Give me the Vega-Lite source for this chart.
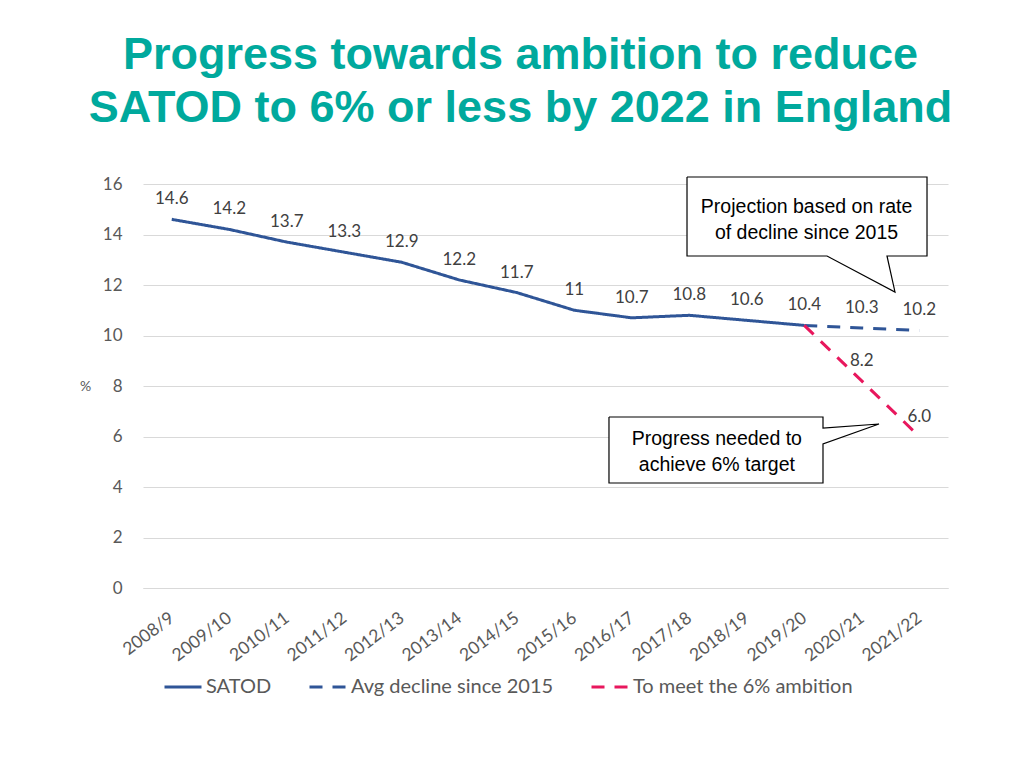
{
  "$schema": "https://vega.github.io/schema/vega-lite/v6.json",
  "width": 805,
  "height": 404,
  "autosize": {"type": "none"},
  "padding": {"left": 143, "top": 184, "right": 76, "bottom": 180},
  "background": "white",
  "title": {
    "text": ["Progress towards ambition to reduce", "SATOD to 6% or less by 2022 in England"],
    "font": "Liberation Sans",
    "fontSize": 45,
    "fontWeight": "bold",
    "color": "#00A99D",
    "anchor": "middle",
    "frame": "group",
    "dx": -25,
    "offset": 44,
    "lineHeight": 53
  },
  "config": {"view": {"stroke": null}, "font": "Lato"},
  "datasets": {
    "series": [
      {"series": "SATOD", "period": "2008/9", "value": 14.6, "label": "14.6"},
      {"series": "SATOD", "period": "2009/10", "value": 14.2, "label": "14.2"},
      {"series": "SATOD", "period": "2010/11", "value": 13.7, "label": "13.7"},
      {"series": "SATOD", "period": "2011/12", "value": 13.3, "label": "13.3"},
      {"series": "SATOD", "period": "2012/13", "value": 12.9, "label": "12.9"},
      {"series": "SATOD", "period": "2013/14", "value": 12.2, "label": "12.2"},
      {"series": "SATOD", "period": "2014/15", "value": 11.7, "label": "11.7"},
      {"series": "SATOD", "period": "2015/16", "value": 11.0, "label": "11"},
      {"series": "SATOD", "period": "2016/17", "value": 10.7, "label": "10.7"},
      {"series": "SATOD", "period": "2017/18", "value": 10.8, "label": "10.8"},
      {"series": "SATOD", "period": "2018/19", "value": 10.6, "label": "10.6"},
      {"series": "SATOD", "period": "2019/20", "value": 10.4, "label": "10.4"},
      {"series": "Avg decline since 2015", "period": "2019/20", "value": 10.4, "label": null},
      {"series": "Avg decline since 2015", "period": "2020/21", "value": 10.3, "label": "10.3"},
      {"series": "Avg decline since 2015", "period": "2021/22", "value": 10.2, "label": "10.2"},
      {"series": "To meet the 6% ambition", "period": "2019/20", "value": 10.4, "label": null},
      {"series": "To meet the 6% ambition", "period": "2020/21", "value": 8.2, "label": "8.2"},
      {"series": "To meet the 6% ambition", "period": "2021/22", "value": 6.0, "label": "6.0"}
    ],
    "callouts": [
      {"id": "a", "i": 1, "u": 9.461, "v": 16.277},
      {"id": "a", "i": 2, "u": 13.635, "v": 16.277},
      {"id": "a", "i": 3, "u": 13.635, "v": 13.149},
      {"id": "a", "i": 4, "u": 12.939, "v": 13.149},
      {"id": "a", "i": 5, "u": 13.078, "v": 11.723},
      {"id": "a", "i": 6, "u": 11.896, "v": 13.149},
      {"id": "a", "i": 7, "u": 9.461, "v": 13.149},
      {"id": "a", "i": 8, "u": 9.461, "v": 16.277},
      {"id": "b", "i": 1, "u": 8.104, "v": 6.772},
      {"id": "b", "i": 2, "u": 11.826, "v": 6.772},
      {"id": "b", "i": 3, "u": 11.826, "v": 6.337},
      {"id": "b", "i": 4, "u": 12.8, "v": 6.495},
      {"id": "b", "i": 5, "u": 11.826, "v": 5.703},
      {"id": "b", "i": 6, "u": 11.826, "v": 4.158},
      {"id": "b", "i": 7, "u": 8.104, "v": 4.158},
      {"id": "b", "i": 8, "u": 8.104, "v": 6.772}
    ],
    "callout_text": [
      {"u": 11.54, "v": 15.09, "text": "Projection based on rate\nof decline since 2015"},
      {"u": 9.98, "v": 5.9, "text": "Progress needed to\nachieve 6% target"}
    ]
  },
  "layer": [
    {
      "data": {"name": "series"},
      "encoding": {
        "x": {
          "field": "period",
          "type": "ordinal",
          "sort": null,
          "scale": {"type": "point", "padding": 0.5},
          "axis": {
            "title": null,
            "labelAngle": -37,
            "labelAlign": "right",
            "labelBaseline": "middle",
            "labelPadding": 28,
            "labelFontSize": 17.5,
            "labelColor": "#595959",
            "ticks": false,
            "domain": true,
            "domainColor": "#d9d9d9",
            "grid": false
          }
        },
        "y": {
          "field": "value",
          "type": "quantitative",
          "scale": {"domain": [0, 16], "nice": false},
          "axis": {
            "title": "%",
            "titleAngle": 0,
            "titleAlign": "center",
            "titleBaseline": "middle",
            "titleX": -58,
            "titleY": 202,
            "titleFontSize": 14,
            "titleFontWeight": "normal",
            "titleColor": "#595959",
            "values": [0, 2, 4, 6, 8, 10, 12, 14, 16],
            "labelFontSize": 17,
            "labelColor": "#595959",
            "labelPadding": 21,
            "ticks": false,
            "domain": false,
            "grid": true,
            "gridColor": "#d9d9d9"
          }
        }
      },
      "layer": [
        {
          "mark": {"type": "line", "strokeWidth": 3},
          "encoding": {
            "color": {
              "field": "series",
              "type": "nominal",
              "scale": {
                "domain": ["SATOD", "Avg decline since 2015", "To meet the 6% ambition"],
                "range": ["#2F5597", "#2F5597", "#E8175D"]
              },
              "legend": {
                "orient": "none",
                "legendX": 20,
                "legendY": 483,
                "direction": "horizontal",
                "title": null,
                "symbolType": "stroke",
                "symbolSize": 1369,
                "symbolStrokeWidth": 3,
                "labelFontSize": 20,
                "labelLimit": 400,
                "labelColor": "#595959",
                "labelOffset": 3,
                "columnPadding": 31
              }
            },
            "strokeDash": {
              "field": "series",
              "type": "nominal",
              "scale": {
                "domain": ["SATOD", "Avg decline since 2015", "To meet the 6% ambition"],
                "range": [[1, 0], [13, 10], [13, 10]]
              },
              "legend": {
                "orient": "none",
                "legendX": 20,
                "legendY": 483,
                "direction": "horizontal",
                "title": null,
                "symbolType": "stroke",
                "symbolSize": 1369,
                "symbolStrokeWidth": 3,
                "labelFontSize": 20,
                "labelLimit": 400,
                "labelColor": "#595959",
                "labelOffset": 3,
                "columnPadding": 31
              }
            }
          }
        },
        {
          "transform": [{"filter": "datum.label != null"}],
          "mark": {"type": "text", "dy": -20, "fontSize": 17, "color": "#404040", "baseline": "middle"},
          "encoding": {"text": {"field": "label"}}
        }
      ]
    },
    {
      "data": {"name": "callouts"},
      "mark": {"type": "line", "fill": "white", "stroke": "black", "strokeWidth": 1.2},
      "encoding": {
        "x": {"field": "u", "type": "quantitative", "scale": {"domain": [0, 14], "nice": false}, "axis": null},
        "y": {"field": "v", "type": "quantitative", "scale": {"domain": [0, 16], "nice": false}},
        "order": {"field": "i"},
        "detail": {"field": "id"}
      }
    },
    {
      "data": {"name": "callout_text"},
      "mark": {"type": "text", "font": "Liberation Sans", "fontSize": 19.5, "lineBreak": "\n", "lineHeight": 26, "color": "black", "baseline": "middle"},
      "encoding": {
        "x": {"field": "u", "type": "quantitative", "scale": {"domain": [0, 14], "nice": false}, "axis": null},
        "y": {"field": "v", "type": "quantitative", "scale": {"domain": [0, 16], "nice": false}},
        "text": {"field": "text"}
      }
    }
  ],
  "resolve": {"scale": {"x": "independent"}}
}
